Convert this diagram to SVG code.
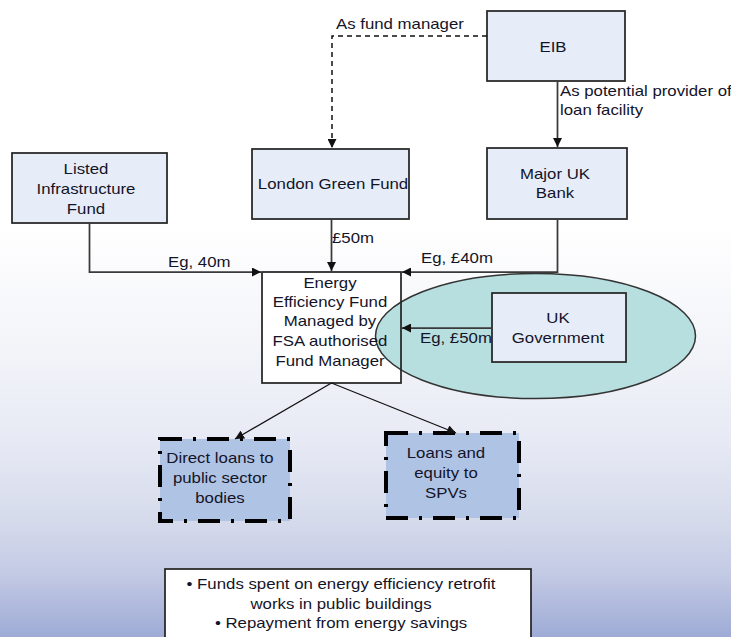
<svg xmlns="http://www.w3.org/2000/svg" width="731" height="637" viewBox="0 0 731 637">
<defs>
<linearGradient id="bg" x1="0" y1="0" x2="0" y2="1">
<stop offset="0" stop-color="#ffffff"/>
<stop offset="0.35" stop-color="#ffffff"/>
<stop offset="0.55" stop-color="#f3f4f9"/>
<stop offset="0.7" stop-color="#e6e9f4"/>
<stop offset="0.82" stop-color="#d5daeb"/>
<stop offset="0.9" stop-color="#c3cae4"/>
<stop offset="1" stop-color="#9eabd6"/>
</linearGradient>
<marker id="ah" viewBox="0 0 10 10" refX="10" refY="5" markerWidth="9" markerHeight="9" markerUnits="userSpaceOnUse" orient="auto">
<path d="M0,0 L10,5 L0,10 z" fill="#111"/>
</marker>
<style>
.box{fill:#e6edf8;stroke:#262626;stroke-width:1.75}
.ddbox{fill:#afc3e4;stroke:#000;stroke-width:4;stroke-dasharray:22 11 3 11}
.t{font-family:"Liberation Sans",Arial,sans-serif;font-size:14px;fill:#141428}
.c{text-anchor:middle}
.con{fill:none;stroke:#3a3a3a;stroke-width:1.75}
.thin{fill:none;stroke:#111;stroke-width:1.25}
.dash{fill:none;stroke:#111;stroke-width:1.5;stroke-dasharray:5 4}
</style>
</defs>
<rect x="0" y="0" width="731" height="637" fill="url(#bg)"/>

<g id="eib">
<rect class="box" x="487" y="11" width="138" height="70"/>
<text class="t c" transform="translate(553,52) scale(1.2,1)">EIB</text>
</g>

<g id="listed-infrastructure-fund">
<rect class="box" x="12" y="153" width="155" height="70"/>
<text class="t c" transform="translate(86,174) scale(1.2,1)">Listed</text>
<text class="t c" transform="translate(86,194) scale(1.2,1)">Infrastructure</text>
<text class="t c" transform="translate(86,214) scale(1.2,1)">Fund</text>
</g>

<g id="london-green-fund">
<rect class="box" x="252" y="149" width="157" height="70"/>
<text class="t c" transform="translate(333,189) scale(1.2,1)">London Green Fund</text>
</g>

<g id="major-uk-bank">
<rect class="box" x="487" y="148" width="140" height="71"/>
<text class="t c" transform="translate(555,179) scale(1.2,1)">Major UK</text>
<text class="t c" transform="translate(555,198) scale(1.2,1)">Bank</text>
</g>

<g id="energy-fund-fill">
<rect x="262" y="272" width="139" height="111" fill="#ffffff"/>
</g>

<g id="uk-government-region">
<ellipse cx="535.5" cy="336" rx="160" ry="62.5" fill="#b7dfe0" stroke="#333" stroke-width="1.5"/>
</g>

<g id="energy-efficiency-fund">
<rect x="262" y="272" width="139" height="111" fill="none" stroke="#262626" stroke-width="1.75"/>
<text class="t c" transform="translate(330,288) scale(1.2,1)">Energy</text>
<text class="t c" transform="translate(330,307) scale(1.2,1)">Efficiency Fund</text>
<text class="t c" transform="translate(330,326) scale(1.2,1)">Managed by</text>
<text class="t c" transform="translate(330,346) scale(1.2,1)">FSA authorised</text>
<text class="t c" transform="translate(330,366) scale(1.2,1)">Fund Manager</text>
</g>

<g id="uk-government">
<rect class="box" x="492" y="293" width="134" height="69"/>
<text class="t c" transform="translate(558,323) scale(1.2,1)">UK</text>
<text class="t c" transform="translate(558,343) scale(1.2,1)">Government</text>
</g>

<g id="direct-loans">
<rect class="ddbox" x="160" y="439" width="130" height="82"/>
<text class="t c" transform="translate(220,463) scale(1.2,1)">Direct loans to</text>
<text class="t c" transform="translate(220,483) scale(1.2,1)">public sector</text>
<text class="t c" transform="translate(220,503) scale(1.2,1)">bodies</text>
</g>

<g id="loans-equity-spvs">
<rect class="ddbox" x="386" y="433" width="133" height="85"/>
<text class="t c" transform="translate(446,458) scale(1.2,1)">Loans and</text>
<text class="t c" transform="translate(446,478) scale(1.2,1)">equity to</text>
<text class="t c" transform="translate(446,498) scale(1.2,1)">SPVs</text>
</g>

<g id="outcomes">
<rect x="165" y="569" width="366" height="80" fill="#ffffff" stroke="#262626" stroke-width="1.75"/>
<text class="t c" transform="translate(341,589) scale(1.2,1)">• Funds spent on energy efficiency retrofit</text>
<text class="t c" transform="translate(341,609) scale(1.2,1)">works in public buildings</text>
<text class="t c" transform="translate(341,628) scale(1.2,1)">• Repayment from energy savings</text>
</g>

<g id="connectors">
<path class="dash" d="M487,36 H332 V148" marker-end="url(#ah)"/>
<path class="con" d="M557.5,81 V147" marker-end="url(#ah)"/>
<path class="con" d="M89.5,223 V272 H261" marker-end="url(#ah)"/>
<path class="con" d="M331.5,219 V271" marker-end="url(#ah)"/>
<path class="con" d="M557.5,219 V272 H402" marker-end="url(#ah)"/>
<path class="con" d="M492,328 H402" marker-end="url(#ah)"/>
<path class="thin" d="M331.5,383 L235,439" marker-end="url(#ah)"/>
<path class="thin" d="M331.5,383 L456,433" marker-end="url(#ah)"/>
<text class="t" transform="translate(336,29) scale(1.2,1)">As fund manager</text>
<text class="t" transform="translate(560,96) scale(1.2,1)">As potential provider of</text>
<text class="t" transform="translate(560,115) scale(1.2,1)">loan facility</text>
<text class="t" transform="translate(168,267) scale(1.2,1)">Eg, 40m</text>
<text class="t" transform="translate(332,243) scale(1.2,1)">£50m</text>
<text class="t" transform="translate(421,263) scale(1.2,1)">Eg, £40m</text>
<text class="t" transform="translate(420,343) scale(1.2,1)">Eg, £50m</text>
</g>
</svg>
